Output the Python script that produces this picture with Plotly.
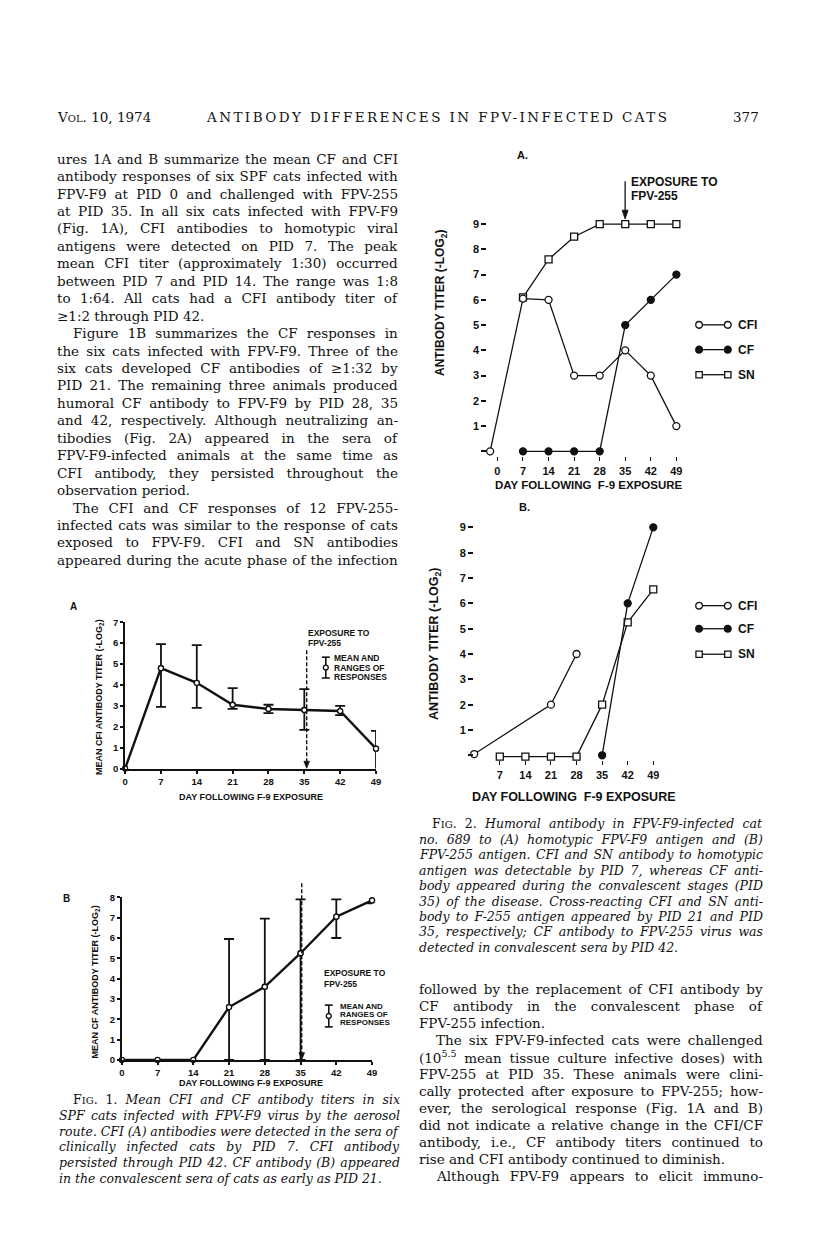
import json
import plotly.graph_objects as go

# ---------------- data ----------------
DAYS = [0, 7, 14, 21, 28, 35, 42, 49]
DAY_LABELS = ["0", "7", "14", "21", "28", "35", "42", "49"]

# Fig 1A: mean CFI antibody titer with ranges
CFI_MEAN = [0, 4.8, 4.1, 3.05, 2.85, 2.8, 2.75, 0.95]
CFI_LOW = [0, 2.95, 2.9, 2.85, 2.65, 1.85, 2.55, -0.1]
CFI_HIGH = [0, 5.95, 5.9, 3.85, 3.05, 3.8, 3.0, 1.8]

# Fig 1B: mean CF antibody titer with ranges
CF_MEAN = [0, 0, 0, 2.6, 3.6, 5.25, 7.05, 7.85]
CF_LOW = [0, 0, 0, 0, 0, 0, 6.0, 7.7]
CF_HIGH = [0, 0, 0, 5.95, 6.95, 7.9, 7.9, 8.1]

# Fig 2A: cat no. 689, homotypic FPV-F9 antigen
A_CFI_DAYS = [-2, 7, 14, 21, 28, 35, 42, 49]
A_CFI = [0, 6.05, 6.0, 3, 3, 4, 3, 1]
A_CF_DAYS = [7, 14, 21, 28, 35, 42, 49]
A_CF = [0, 0, 0, 0, 5, 6, 7]
A_SN_DAYS = [7, 14, 21, 28, 35, 42, 49]
A_SN = [6.1, 7.6, 8.5, 9, 9, 9, 9]

# Fig 2B: FPV-255 antigen
B_CFI_DAYS = [0, 21, 28]
B_CFI = [0.05, 2, 4]
B_CF_DAYS = [35, 42, 49]
B_CF = [0, 6, 9]
B_SN_DAYS = [7, 14, 21, 28, 35, 42, 49]
B_SN = [-0.05, -0.05, -0.05, -0.05, 2, 5.25, 6.55]

Y2_TICKS = list(range(1, 10))
Y2_LABELS = [str(v) for v in Y2_TICKS]

# ---------------- text ----------------
LEFT_TEXT = [
    "ures 1A and B summarize the mean CF and CFI",
    "antibody responses of six SPF cats infected with",
    "FPV-F9 at PID 0 and challenged with FPV-255",
    "at PID 35. In all six cats infected with FPV-F9",
    "(Fig. 1A), CFI antibodies to homotypic viral",
    "antigens were detected on PID 7. The peak",
    "mean CFI titer (approximately 1:30) occurred",
    "between PID 7 and PID 14. The range was 1:8",
    "to 1:64. All cats had a CFI antibody titer of",
    "\u22651:2 through PID 42.",
    "Figure 1B summarizes the CF responses in",
    "the six cats infected with FPV-F9. Three of the",
    "six cats developed CF antibodies of \u22651:32 by",
    "PID 21. The remaining three animals produced",
    "humoral CF antibody to FPV-F9 by PID 28, 35",
    "and 42, respectively. Although neutralizing an-",
    "tibodies (Fig. 2A) appeared in the sera of",
    "FPV-F9-infected animals at the same time as",
    "CFI antibody, they persisted throughout the",
    "observation period.",
    "The CFI and CF responses of 12 FPV-255-",
    "infected cats was similar to the response of cats",
    "exposed to FPV-F9. CFI and SN antibodies",
    "appeared during the acute phase of the infection",
]
LEFT_INDENT = {10, 20}
LEFT_LAST = {9, 19}

RIGHT_TEXT = [
    "followed by the replacement of CFI antibody by",
    "CF antibody in the convalescent phase of",
    "FPV-255 infection.",
    "The six FPV-F9-infected cats were challenged",
    "(10<sup>5.5</sup> mean tissue culture infective doses) with",
    "FPV-255 at PID 35. These animals were clini-",
    "cally protected after exposure to FPV-255; how-",
    "ever, the serological response (Fig. 1A and B)",
    "did not indicate a relative change in the CFI/CF",
    "antibody, i.e., CF antibody titers continued to",
    "rise and CFI antibody continued to diminish.",
    "Although FPV-F9 appears to elicit immuno-",
]
RIGHT_INDENT = {3, 11}
RIGHT_LAST = {2, 10}

SC = "<span style='font-size:10px'>{}</span>"
FIG2_CAPTION = [
    "F" + SC.format("IG") + ". 2. <i>Humoral antibody in FPV-F9-infected cat</i>",
    "<i>no. 689 to (A) homotypic FPV-F9 antigen and (B)</i>",
    "<i>FPV-255 antigen. CFI and SN antibody to homotypic</i>",
    "<i>antigen was detectable by PID 7, whereas CF anti-</i>",
    "<i>body appeared during the convalescent stages (PID</i>",
    "<i>35) of the disease. Cross-reacting CFI and SN anti-</i>",
    "<i>body to F-255 antigen appeared by PID 21 and PID</i>",
    "<i>35, respectively; CF antibody to FPV-255 virus was</i>",
    "<i>detected in convalescent sera by PID 42.</i>",
]
FIG1_CAPTION = [
    "F" + SC.format("IG") + ". 1. <i>Mean CFI and CF antibody titers in six</i>",
    "<i>SPF cats infected with FPV-F9 virus by the aerosol</i>",
    "<i>route. CFI (A) antibodies were detected in the sera of</i>",
    "<i>clinically infected cats by PID 7. CFI antibody</i>",
    "<i>persisted through PID 42. CF antibody (B) appeared</i>",
    "<i>in the convalescent sera of cats as early as PID 21.</i>",
]

# ---------------- helpers ----------------
W, H = 816, 1245
INK = "#111111"
SERIF = "DejaVu Serif"
SANS = "Liberation Sans"


def px(x):
    return x / W


def py(y):
    return 1 - y / H


fig = go.Figure()
annotations = []
shapes = []
justify = []  # [annotation index, right edge px, mode]


def txt(x, y, s, size, family=SERIF, anchor="left", bold=False, angle=0):
    annotations.append(dict(
        x=px(x), y=py(y), xref="paper", yref="paper", text=s, showarrow=False,
        xanchor=anchor, yanchor="middle", textangle=angle,
        align=anchor if anchor in ("left", "right") else "center",
        font=dict(family=family, size=size, color=INK,
                  weight="bold" if bold else "normal"),
    ))
    return len(annotations) - 1


def seg(x0, y0, x1, y1, width=1.3, dash="solid"):
    shapes.append(dict(type="line", xref="paper", yref="paper",
                       x0=px(x0), y0=py(y0), x1=px(x1), y1=py(y1),
                       line=dict(color=INK, width=width, dash=dash)))


def circ(cx, cy, r, fill):
    shapes.append(dict(type="circle", xref="paper", yref="paper",
                       x0=px(cx - r), x1=px(cx + r), y0=py(cy + r), y1=py(cy - r),
                       fillcolor=fill, line=dict(color=INK, width=1.3)))


def sq(cx, cy, r):
    shapes.append(dict(type="rect", xref="paper", yref="paper",
                       x0=px(cx - r), x1=px(cx + r), y0=py(cy + r), y1=py(cy - r),
                       fillcolor="white", line=dict(color=INK, width=1.3)))


def head_down(x, y, w=3.2, h=8):
    path = "M {:.5f},{:.5f} L {:.5f},{:.5f} L {:.5f},{:.5f} Z".format(
        px(x - w), py(y - h), px(x + w), py(y - h), px(x), py(y))
    shapes.append(dict(type="path", xref="paper", yref="paper", path=path,
                       fillcolor=INK, line=dict(color=INK, width=0.8)))


# ---------------- page text ----------------
BODY = 13.5
txt(53, 112, "V" + SC.format("OL") + ". 10, 1974", BODY)
justify.append([txt(203, 112, "ANTIBODY DIFFERENCES IN FPV-INFECTED CATS", BODY), 667, "l"])
txt(765, 112, "377", BODY, anchor="right")

for i, line in enumerate(LEFT_TEXT):
    k = txt(69 if i in LEFT_INDENT else 53, 154 + i * 17.6, line, BODY)
    if i not in LEFT_LAST:
        justify.append([k, 398, "w"])
for i, line in enumerate(RIGHT_TEXT):
    k = txt(435 if i in RIGHT_INDENT else 418, 991.7 + i * 17.2, line, BODY)
    if i not in RIGHT_LAST:
        justify.append([k, 763, "w"])
for i, line in enumerate(FIG2_CAPTION):
    k = txt(431 if i == 0 else 418, 825 + i * 15.6, line, 12.5)
    if i < len(FIG2_CAPTION) - 1:
        justify.append([k, 763, "w"])
for i, line in enumerate(FIG1_CAPTION):
    k = txt(69 if i == 0 else 55, 1103.3 + i * 15.9, line, 12.5)
    if i < len(FIG1_CAPTION) - 1:
        justify.append([k, 400, "w"])


# ---------------- Fig 1A / 1B ----------------
def mean_range_traces(means, lows, highs, xa, ya):
    idx = [i for i in range(len(DAYS)) if highs[i] != lows[i]]
    fig.add_trace(go.Scatter(
        x=[DAYS[i] for i in idx], y=[means[i] for i in idx], mode="markers",
        marker=dict(size=5, color="white", line=dict(color=INK, width=1.3)),
        error_y=dict(type="data", symmetric=False,
                     array=[highs[i] - means[i] for i in idx],
                     arrayminus=[means[i] - lows[i] for i in idx],
                     color=INK, thickness=1.8, width=5),
        xaxis=xa, yaxis=ya, cliponaxis=False, hoverinfo="skip"))
    fig.add_trace(go.Scatter(
        x=DAYS, y=means, mode="lines+markers",
        line=dict(color=INK, width=2.4),
        marker=dict(size=5, color="white", line=dict(color=INK, width=1.3)),
        xaxis=xa, yaxis=ya, cliponaxis=False, hoverinfo="skip"))


mean_range_traces(CFI_MEAN, CFI_LOW, CFI_HIGH, "x", "y")
mean_range_traces(CF_MEAN, CF_LOW, CF_HIGH, "x2", "y2")

small_tick = dict(family=SANS, size=9.5, color=INK, weight="bold")
ax1 = dict(showline=True, linewidth=2, linecolor=INK, ticks="outside", ticklen=3,
           tickwidth=1.5, tickcolor=INK, showgrid=False, zeroline=False,
           tickfont=small_tick, fixedrange=True)

txt(66, 606, "A", 10, SANS, bold=True)
txt(98, 697, "MEAN CFI ANTIBODY TITER (-LOG<sub>2</sub>)", 9, SANS, anchor="center", bold=True, angle=-90)
txt(250, 798, "DAY FOLLOWING F-9 EXPOSURE", 9, SANS, anchor="center", bold=True)
txt(306, 633, "EXPOSURE TO", 8.5, SANS, bold=True)
txt(306, 643, "FPV-255", 8.5, SANS, bold=True)
seg(306.7, 650, 306.7, 762, width=1.4, dash="4px,2px")
head_down(306.7, 769, 2.8, 7)
seg(326, 657, 326, 678, width=1.6)
seg(322, 657, 330, 657, width=1.6)
seg(322, 678, 330, 678, width=1.6)
circ(326, 667.5, 2.5, "white")
txt(332, 658, "MEAN AND", 8.5, SANS, bold=True)
txt(332, 667.5, "RANGES OF", 8.5, SANS, bold=True)
txt(332, 677, "RESPONSES", 8.5, SANS, bold=True)

txt(59, 900, "B", 10, SANS, bold=True)
txt(93, 985, "MEAN CF ANTIBODY TITER (-LOG<sub>2</sub>)", 9, SANS, anchor="center", bold=True, angle=-90)
txt(250, 1086.5, "DAY FOLLOWING F-9 EXPOSURE", 9, SANS, anchor="center", bold=True)
txt(322, 976, "EXPOSURE TO", 8.5, SANS, bold=True)
txt(322, 987, "FPV-255", 8.5, SANS, bold=True)
seg(301.7, 885, 301.7, 1056, width=1.4, dash="4px,2px")
head_down(301.7, 1063, 2.8, 7)
seg(329, 1008, 329, 1030, width=1.6)
seg(325, 1008, 333, 1008, width=1.6)
seg(325, 1030, 333, 1030, width=1.6)
circ(329, 1019, 2.5, "white")
txt(338, 1009, "MEAN AND", 8, SANS, bold=True)
txt(338, 1017.5, "RANGES OF", 8, SANS, bold=True)
txt(338, 1026, "RESPONSES", 8, SANS, bold=True)


# ---------------- Fig 2A / 2B ----------------
def series(xs, ys, symbol, fill, xa, ya):
    fig.add_trace(go.Scatter(
        x=xs, y=ys, mode="lines+markers", line=dict(color=INK, width=1.3),
        marker=dict(symbol=symbol, size=7, color=fill, line=dict(color=INK, width=1.3)),
        xaxis=xa, yaxis=ya, cliponaxis=False, hoverinfo="skip"))


series(A_SN_DAYS, A_SN, "square", "white", "x3", "y3")
series(A_CF_DAYS, A_CF, "circle", INK, "x3", "y3")
series(A_CFI_DAYS, A_CFI, "circle", "white", "x3", "y3")

series(B_SN_DAYS, B_SN, "square", "white", "x4", "y4")
series(B_CF_DAYS, B_CF, "circle", INK, "x4", "y4")
series(B_CFI_DAYS, B_CFI, "circle", "white", "x4", "y4")

big_tick = dict(family=SANS, size=11, color=INK, weight="bold")
ax2 = dict(showline=False, ticks="outside", tickcolor=INK, showgrid=False,
           zeroline=False, tickfont=big_tick, fixedrange=True)
y2_axis = dict(ax2, tickvals=Y2_TICKS, ticktext=Y2_LABELS, ticklen=5, tickwidth=1.5,
               range=[-0.2, 9.5],
               minor=dict(tickvals=[0], ticks="outside", ticklen=5, tickwidth=1.5,
                          tickcolor=INK, showgrid=False))


def legend2(y_cfi, y_cf, y_sn):
    for y, kind in ((y_cfi, "o"), (y_cf, "f"), (y_sn, "s")):
        seg(703, y, 732, y, width=1.3)
        for x in (703, 732):
            if kind == "s":
                sq(x, y, 3.2)
            else:
                circ(x, y, 3.4, "white" if kind == "o" else INK)
    txt(740, y_cfi, "CFI", 12, SANS, bold=True)
    txt(740, y_cf, "CF", 12, SANS, bold=True)
    txt(740, y_sn, "SN", 12, SANS, bold=True)


txt(517, 150, "A.", 11, SANS, bold=True)
txt(632, 178, "EXPOSURE TO", 12, SANS, bold=True)
txt(632, 192, "FPV-255", 12, SANS, bold=True)
seg(628.3, 176.7, 628.3, 208, width=1.3)
head_down(628.3, 215, 3, 9)
txt(443, 300, "ANTIBODY TITER (-LOG<sub>2</sub>)", 12, SANS, anchor="center", bold=True, angle=-90)
txt(592, 483, "DAY FOLLOWING  F-9 EXPOSURE", 11.5, SANS, anchor="center", bold=True)
legend2(321.7, 346.7, 372)

txt(519, 505, "B.", 11, SANS, bold=True)
txt(437, 643, "ANTIBODY TITER (-LOG<sub>2</sub>)", 12.5, SANS, anchor="center", bold=True, angle=-90)
txt(577, 798, "DAY FOLLOWING  F-9 EXPOSURE", 12.5, SANS, anchor="center", bold=True)
legend2(605, 628.3, 654)

fig.update_layout(
    width=W, height=H, margin=dict(l=0, r=0, t=0, b=0),
    paper_bgcolor="white", plot_bgcolor="rgba(0,0,0,0)", showlegend=False,
    xaxis=dict(ax1, domain=[px(123.3), px(376.7)], range=[0, 49], anchor="y",
               tickvals=DAYS, ticktext=DAY_LABELS),
    yaxis=dict(ax1, domain=[py(769.3), py(621.7)], range=[0, 7], anchor="x",
               tickvals=list(range(0, 8))),
    xaxis2=dict(ax1, domain=[px(120), px(372.7)], range=[0, 49], anchor="y2",
                tickvals=DAYS, ticktext=DAY_LABELS),
    yaxis2=dict(ax1, domain=[py(1063.3), py(899.3)], range=[0, 8], anchor="x2",
                tickvals=list(range(0, 9))),
    xaxis3=dict(ax2, domain=[px(489.0), px(691.1)], range=[-2.8, 52], anchor="y3",
                tickvals=DAYS, ticktext=DAY_LABELS, ticklen=4, tickwidth=1),
    yaxis3=dict(y2_axis, domain=[py(454.4), py(207.3)], anchor="x3"),
    xaxis4=dict(ax2, domain=[px(475.7), px(667.8)], range=[-0.05, 52], anchor="y4",
                tickvals=DAYS[1:], ticktext=DAY_LABELS[1:], ticklen=4, tickwidth=1),
    yaxis4=dict(y2_axis, domain=[py(761.1), py(513.2)], anchor="x4"),
    annotations=annotations, shapes=shapes,
)

JS = """
document.body.style.margin = '0';
var gd = document.getElementById('{plot_id}');
var J = %s;
J.forEach(function (p) {
  var g = gd.querySelector('g.annotation[data-index="' + p[0] + '"]');
  if (!g) return;
  var t = g.querySelector('text.annotation-text');
  if (!t) return;
  var b0 = t.getBoundingClientRect();
  var s = t.textContent;
  var n;
  if (p[2] === 'l') {
    n = s.length - 1;
    if (n > 0) t.style.letterSpacing = ((p[1] - b0.right) / n) + 'px';
  } else {
    n = (s.match(/ /g) || []).length;
    if (n > 0) t.style.wordSpacing = ((p[1] - b0.right) / n) + 'px';
  }
  var b1 = t.getBoundingClientRect();
  var dx = b0.left - b1.left;
  if (Math.abs(dx) > 0.2) t.setAttribute('transform', 'translate(' + dx + ',0)');
});
""" % json.dumps(justify)

fig.write_html("out.html", config={"displayModeBar": False}, post_script=JS)
